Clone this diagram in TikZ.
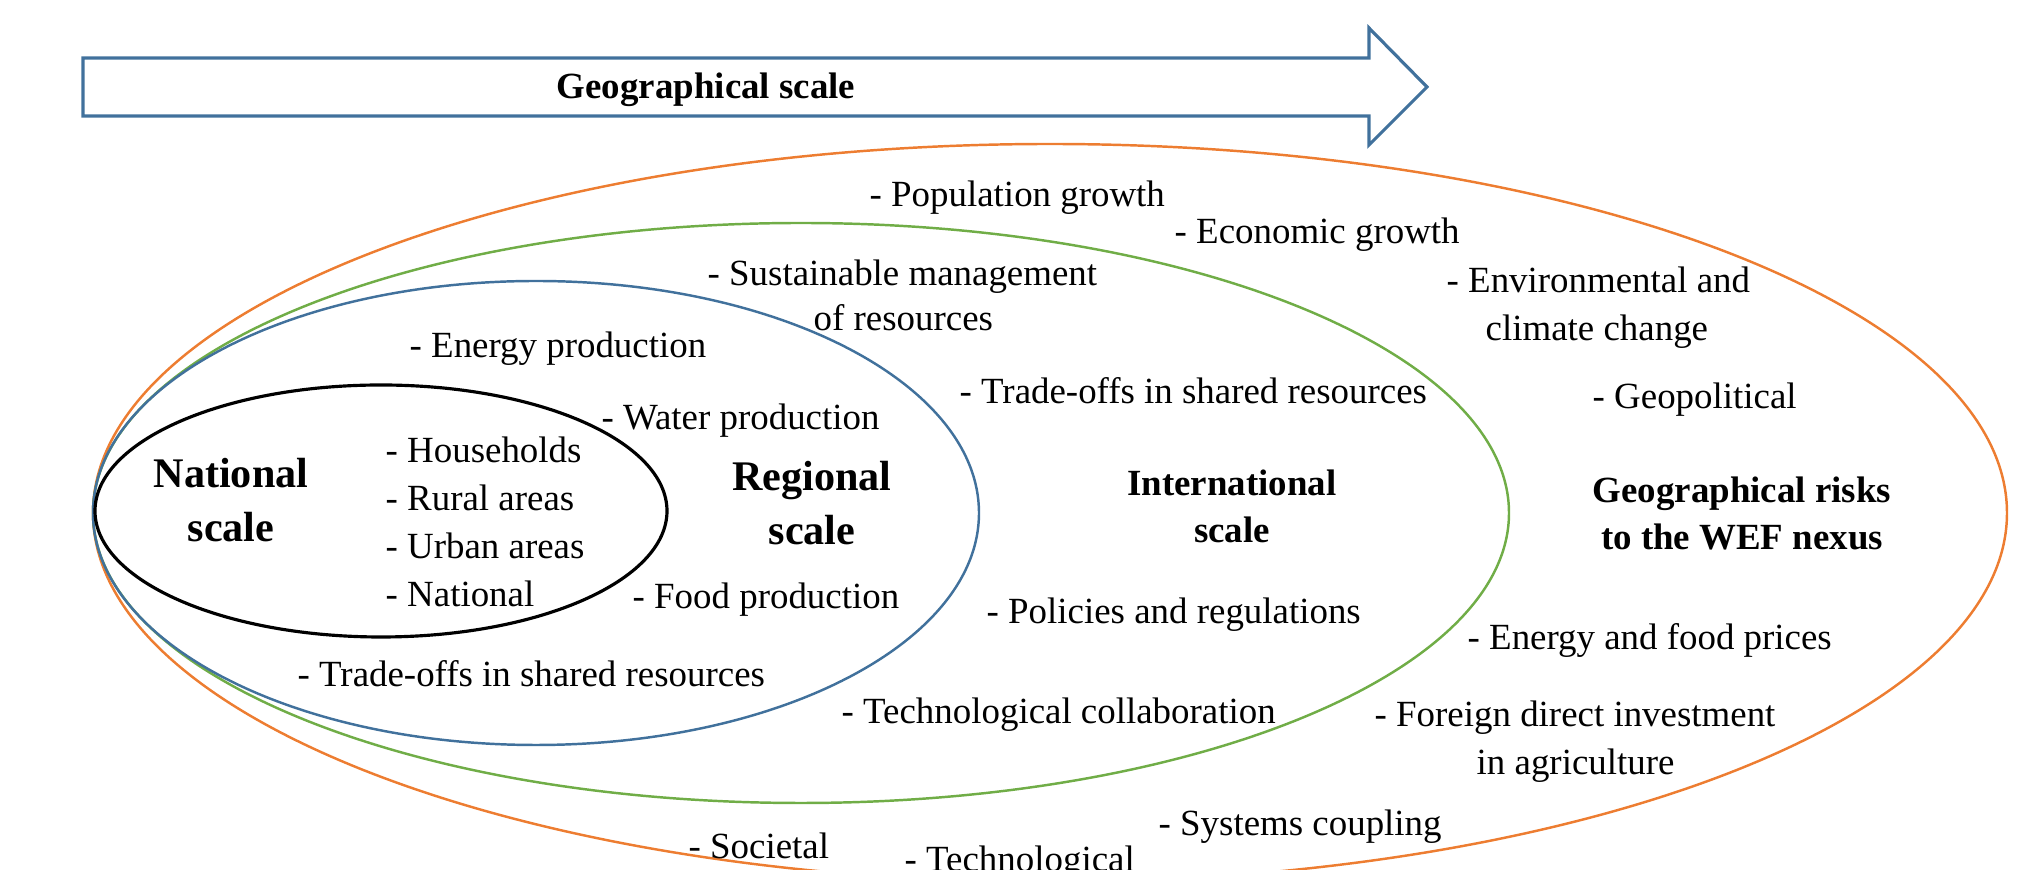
\documentclass[tikz,border=0pt]{standalone}
\usepackage{fontspec}
\setmainfont{Liberation Serif}
\usetikzlibrary{calc,math}

\definecolor{scaleblue}{HTML}{41719C}
\definecolor{intgreen}{HTML}{70AD47}
\definecolor{riskorange}{HTML}{ED7D31}

\tikzset{
    item/.style={anchor=base west,inner sep=0pt,font=\fontsize{10.5}{13}\selectfont},
    title/.style={anchor=base,align=center,inner sep=0pt,font=\bfseries\fontsize{10.5}{13.4}\selectfont},
    bigtitle/.style={anchor=base,align=center,inner sep=0pt,font=\bfseries\fontsize{12}{15.6}\selectfont},
    ring/.style={line width=0.7pt},
}

\begin{document}
\begin{tikzpicture}
    \useasboundingbox (0,0) rectangle (20.34,-8.70);
    \tikzmath{ \y=-5.13; }
    \coordinate (L) at (0.93,\y);
    \draw[ring,riskorange] ($(L)+(9.57,0)$) ellipse [x radius=9.57, y radius=3.69];
    \draw[ring,intgreen] ($(L)+(7.08,0)$) ellipse [x radius=7.08, y radius=2.90];
    \draw[ring,scaleblue] ($(L)+(4.43,0)$) ellipse [x radius=4.43, y radius=2.32];
    \draw[line width=0.9pt] ($(L)+(2.88,0.02)$) ellipse [x radius=2.86, y radius=1.26];

    \draw[scaleblue,line width=0.9pt] (0.83,-0.58) -- (13.69,-0.58) -- (13.69,-0.28)
        -- (14.27,-0.87) -- (13.69,-1.45) -- (13.69,-1.16) -- (0.83,-1.16) -- cycle;
    \node[title] (geo) at (7.06,-0.99) {Geographical scale};

    \node[bigtitle] (nat) at (2.31,-5.42) {National\\scale};
    \node[bigtitle] (reg) at (8.12,-5.45) {Regional\\scale};
    \node[title] (int) at (12.32,-5.43) {International\\scale};
    \node[title] (risk) at (17.42,-5.50) {Geographical risks\\to the WEF nexus};

    \foreach \t [count=\i] in {Households,Rural areas,Urban areas,National}
        \node[item] (hh\i) at (3.85,{-4.63-0.48*(\i-1)}) {- \t};

    \node[item] (energy) at (4.09,-3.58) {- Energy production};
    \node[item] (water) at (6.01,-4.30) {- Water production};
    \node[item] (food) at (6.32,-6.09) {- Food production};
    \node[item] (tradereg) at (2.97,-6.87) {- Trade-offs in shared resources};

    \node[item] (sust) at (7.07,-2.86) {- Sustainable management};
    \node[item] (sustb) at (8.13,-3.31) {of resources};
    \node[item] (tradeint) at (9.59,-4.04) {- Trade-offs in shared resources};
    \node[item] (policy) at (9.86,-6.24) {- Policies and regulations};
    \node[item] (techcol) at (8.41,-7.24) {- Technological collaboration};

    \node[item] (pop) at (8.69,-2.07) {- Population growth};
    \node[item] (econ) at (11.74,-2.44) {- Economic growth};
    \node[item] (env) at (14.46,-2.93) {- Environmental and};
    \node[item] (envb) at (14.85,-3.41) {climate change};
    \node[item] (geopol) at (15.92,-4.09) {- Geopolitical};
    \node[item] (prices) at (14.67,-6.50) {- Energy and food prices};
    \node[item] (fdi) at (13.74,-7.27) {- Foreign direct investment};
    \node[item] (fdib) at (14.76,-7.75) {in agriculture};
    \node[item] (coupling) at (11.58,-8.36) {- Systems coupling};
    \node[item] (society) at (6.88,-8.59) {- Societal};
    \node[item] (tech) at (9.04,-8.72) {- Technological};
\end{tikzpicture}
\end{document}
